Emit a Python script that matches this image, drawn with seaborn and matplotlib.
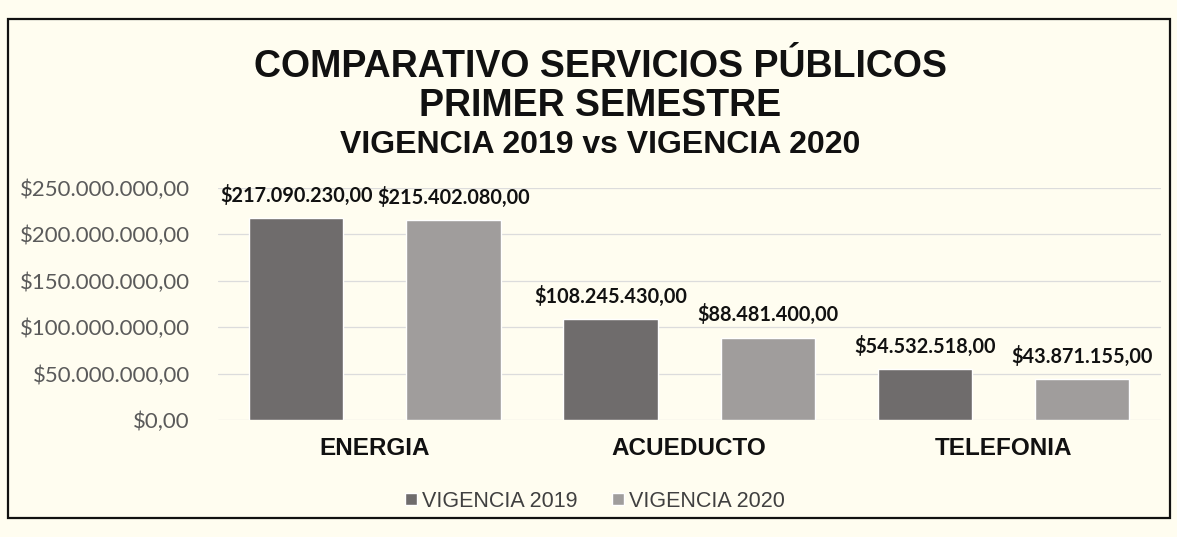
import pandas as pd
import seaborn as sns
import matplotlib.pyplot as plt
from matplotlib.patches import Rectangle
from matplotlib.ticker import FuncFormatter

servicios = ['ENERGIA', 'ACUEDUCTO', 'TELEFONIA']
vigencia_2019 = [217090230.00, 108245430.00, 54532518.00]
vigencia_2020 = [215402080.00, 88481400.00, 43871155.00]
series = ['VIGENCIA 2019', 'VIGENCIA 2020']
y_ticks = [0, 50000000, 100000000, 150000000, 200000000, 250000000]


def pesos(v):
    # formato colombiano: $1.234.567,89
    s = f"{v:,.2f}"
    s = s.replace(',', 'X').replace('.', ',').replace('X', '.')
    return '$' + s


df = pd.DataFrame({
    'servicio': servicios * 2,
    'vigencia': [series[0]] * 3 + [series[1]] * 3,
    'valor': vigencia_2019 + vigencia_2020,
})

sns.set_style('white')
plt.rcParams['font.family'] = ['Liberation Sans', 'DejaVu Sans']

bg = '#fffdf0'
fig = plt.figure(figsize=(11.77, 5.37), dpi=100, facecolor=bg)
ax = fig.add_axes([0.185, 0.218, 0.801, 0.432], facecolor=bg)

sns.barplot(data=df, x='servicio', y='valor', hue='vigencia',
            palette=['#6f6b6b', '#a19d9b'], width=1.0, gap=0.4,
            ax=ax, legend=True)

ax.set_ylim(0, 250000000)
ax.set_xlim(-0.5, 2.5)
ax.set_yticks(y_ticks)
ax.yaxis.set_major_formatter(FuncFormatter(lambda v, p: pesos(v)))
ax.grid(axis='y', color='#dcdcdc', linewidth=0.9)
ax.set_axisbelow(True)
for s in ax.spines.values():
    s.set_visible(False)
ax.tick_params(axis='y', length=0, pad=20, labelsize=16, labelcolor='#5a5a5a')
ax.tick_params(axis='x', length=0, pad=12)
for lbl in ax.get_yticklabels():
    lbl.set_fontfamily('Lato')
for lbl in ax.get_xticklabels():
    lbl.set_fontsize(17.5)
    lbl.set_fontweight('bold')
    lbl.set_color('#111111')
ax.set_xlabel('')
ax.set_ylabel('')

for cont, vals in zip(ax.containers, [vigencia_2019, vigencia_2020]):
    ax.bar_label(cont, labels=[pesos(v) for v in vals], padding=9,
                 fontsize=14.3, fontweight='bold', family='Lato', color='#111111')

ax.legend(loc='center', bbox_to_anchor=(0.40, -0.35), ncol=2,
          frameon=False, fontsize=15.5, handlelength=0.55, handleheight=0.55,
          handletextpad=0.25, columnspacing=1.6, labelcolor='#404040')

fig.text(0.51, 0.875, 'COMPARATIVO SERVICIOS PÚBLICOS', ha='center', va='center',
         fontsize=27, fontweight='bold', color='#111111')
fig.text(0.51, 0.802, 'PRIMER SEMESTRE', ha='center', va='center',
         fontsize=27, fontweight='bold', color='#111111')
fig.text(0.51, 0.73, 'VIGENCIA 2019 vs VIGENCIA 2020', ha='center', va='center',
         fontsize=23, fontweight='bold', color='#111111')

fig.patches.append(Rectangle((0.007, 0.035), 0.987, 0.93, transform=fig.transFigure,
                             fill=False, edgecolor='#111111', linewidth=1.6))

fig.savefig('out.png', dpi=100, facecolor=bg)
